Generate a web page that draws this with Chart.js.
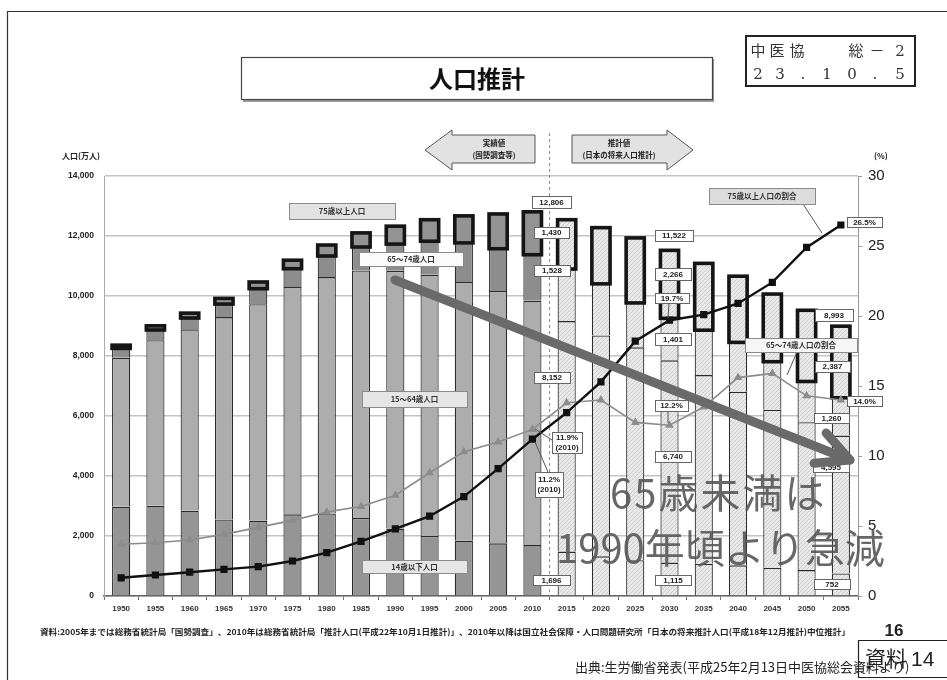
<!DOCTYPE html>
<html lang="ja">
<head>
<meta charset="utf-8">
<title>人口推計</title>
<script src="https://cdn.jsdelivr.net/npm/chart.js@4.4.1/dist/chart.umd.min.js"></script>
<style>
  html, body { margin: 0; padding: 0; background: #fff; }
  #wrap { position: relative; width: 947px; height: 680px; overflow: hidden; }
  canvas { display: block; }
</style>
</head>
<body>
<div id="wrap"><canvas id="c" width="947" height="680"></canvas></div>
<script>
// ---- data (population in 10,000 persons; shares in %) ----
const years = ['1950','1955','1960','1965','1970','1975','1980','1985','1990','1995','2000','2005','2010',
               '2015','2020','2025','2030','2035','2040','2045','2050','2055'];
const under15   = [2979,3012,2843,2553,2515,2722,2751,2603,2249,2001,1847,1759,1696,
                   1484,1324,1194,1115,1071,1021,940,864,752];
const age15to64 = [4966,5517,6047,6744,7212,7581,7883,8251,8590,8716,8622,8409,8152,
                   7681,7363,7096,6740,6292,5787,5270,4930,4595];
const age65to74 = [309,338,376,434,516,606,699,779,892,1109,1301,1407,1528,
                   1733,1718,1479,1401,1497,1646,1600,1357,1260];
const age75plus = [107,139,163,190,224,284,366,471,597,717,901,1160,1430,
                   1645,1873,2167,2266,2228,2206,2255,2373,2387];
const share75plus  = [1.3,1.5,1.7,1.9,2.1,2.5,3.1,3.9,4.8,5.7,7.1,9.1,11.2,
                      13.1,15.3,18.2,19.7,20.1,20.9,22.4,24.9,26.5];
const share65to74  = [3.7,3.8,4.0,4.4,4.9,5.4,6.0,6.4,7.2,8.8,10.3,11.0,11.9,
                      13.8,14.0,12.4,12.2,13.5,15.6,15.9,14.3,14.0];
const leftTicks  = [0, 2000, 4000, 6000, 8000, 10000, 12000, 14000];
const rightTicks = [0, 5, 10, 15, 20, 25, 30];
const firstProjected = years.indexOf('2015');

const JP  = "'Noto Sans CJK JP', 'Noto Sans', sans-serif";
const NUM = "'Liberation Sans Narrow', 'Liberation Sans', Arial, sans-serif";
const fmt = v => v.toLocaleString('en-US');
const pct = v => v.toFixed(1) + '%';

// light diagonal hatch used for projected years
function makeHatch(base, line) {
  const c = document.createElement('canvas');
  c.width = 4; c.height = 4;
  const g = c.getContext('2d');
  g.fillStyle = base; g.fillRect(0, 0, 4, 4);
  g.strokeStyle = line; g.lineWidth = 0.8;
  g.beginPath();
  g.moveTo(-1, 5); g.lineTo(5, -1);
  g.moveTo(-1, 1); g.lineTo(1, -1);
  g.moveTo(3, 5); g.lineTo(5, 3);
  g.stroke();
  return g.createPattern(c, 'repeat');
}
const hatch = makeHatch('#e9e9e9', '#c4c4c4');
const fillBy = solid => ctx => ctx.dataIndex < firstProjected ? solid : hatch;

const i10 = years.indexOf('2010'), i30 = years.indexOf('2030'), i55 = years.indexOf('2055');

// value call-outs: [text, left, top, right, bottom]
const callouts = [
  ['12,806', 532,196,571,208],
  [fmt(age75plus[i10]), 534,227,569,238],
  [fmt(age65to74[i10]), 534,265,570,276],
  [fmt(age15to64[i10]), 534,372,570,383],
  [fmt(under15[i10]),   533,575,570,585],
  [pct(share65to74[i10]) + '\n(2010)', 552,432,582,453],
  [pct(share75plus[i10]) + '\n(2010)', 535,472,563,497],
  ['11,522', 655,230,693,241],
  [fmt(age75plus[i30]), 655,268,691,280],
  [pct(share75plus[i30]), 655,293,689,303],
  [fmt(age65to74[i30]), 655,333,691,345],
  [pct(share65to74[i30]), 655,400,688,411],
  [fmt(age15to64[i30]), 655,451,691,462],
  [fmt(under15[i30]),   655,575,691,585],
  ['8,993', 815,309,853,321],
  [fmt(age75plus[i55]), 815,361,850,372],
  [pct(share75plus[i55]), 847,217,882,227],
  [pct(share65to74[i55]), 847,396,882,406],
  [fmt(age65to74[i55]), 814,413,849,423],
  [fmt(age15to64[i55]), 813,462,849,472],
  [fmt(under15[i55]),   814,579,850,589]
];
// series names: [text, left, top, right, bottom, fill]
const seriesTags = [
  ['75歳以上人口', 289,203,395,219, '#e3e3e3'],
  ['65～74歳人口', 359,252,463,266, '#fbfbfb'],
  ['15～64歳人口', 362,391,467,407, '#e6e6e6'],
  ['14歳以下人口', 362,560,467,573, '#e6e6e6'],
  ['75歳以上人口の割合', 709,188,815,204, '#dcdcdc'],
  ['65～74歳人口の割合', 745,338,857,352, '#f6f6f6']
];
// leader lines
const leaders = [
  [803,204, 822,233],
  [797,352, 787,375],
  [669,303, 668,318],
  [668,411, 668,423],
  [552,440, 535,429],
  [548,472, 535,442]
];

function rectBox(ctx, x0, y0, x1, y1, fill, stroke, lw) {
  ctx.fillStyle = fill;
  ctx.fillRect(x0, y0, x1 - x0, y1 - y0);
  ctx.strokeStyle = stroke; ctx.lineWidth = lw;
  ctx.strokeRect(x0 + 0.5, y0 + 0.5, x1 - x0, y1 - y0);
}
function centeredLines(ctx, text, cx, cy, lh) {
  const lines = text.split('\n');
  lines.forEach((t, k) => ctx.fillText(t, cx, cy + (k - (lines.length - 1) / 2) * lh));
}

const decorations = {
  id: 'decorations',
  beforeDatasetsDraw(chart) {
    const ctx = chart.ctx, x = chart.scales.x, y = chart.scales.y;
    const xm = (x.getPixelForValue(i10) + x.getPixelForValue(firstProjected)) / 2;
    ctx.save();
    ctx.strokeStyle = '#8a8a8a'; ctx.lineWidth = 1; ctx.setLineDash([3, 3]);
    ctx.beginPath(); ctx.moveTo(xm, 133); ctx.lineTo(xm, y.getPixelForValue(0)); ctx.stroke();
    ctx.restore();
  },
  afterDatasetDraw(chart, args) {
    // heavy outline of the 75+ segment, painted once every bar layer is down
    if (args.index !== 2) return;
    const ctx = chart.ctx;
    ctx.save();
    ctx.strokeStyle = '#151515'; ctx.lineWidth = 3.6;
    chart.getDatasetMeta(5).data.forEach(bar => {
      const p = bar.getProps(['x', 'y', 'base', 'width'], true);
      ctx.strokeRect(p.x - p.width / 2, Math.min(p.y, p.base), p.width, Math.abs(p.base - p.y));
    });
    ctx.restore();
  },
  afterDraw(chart) {
    const ctx = chart.ctx;
    ctx.save();
    // page frame
    ctx.strokeStyle = '#333'; ctx.lineWidth = 1.2;
    ctx.beginPath(); ctx.moveTo(7.5, 690); ctx.lineTo(7.5, 11.5); ctx.lineTo(960, 11.5); ctx.stroke();

    // title
    ctx.fillStyle = '#999'; ctx.fillRect(243, 59, 471, 43);
    rectBox(ctx, 241, 57, 712, 99, '#fff', '#444', 1.2);
    ctx.fillStyle = '#111'; ctx.font = `bold 24px ${JP}`;
    ctx.textAlign = 'center'; ctx.textBaseline = 'middle';
    ctx.fillText('人口推計', 477, 79);

    // document tag top right
    ctx.strokeStyle = '#222'; ctx.lineWidth = 2;
    ctx.strokeRect(746, 36, 169, 50);
    ctx.fillStyle = '#333'; ctx.font = `15px 'DejaVu Serif', ${JP}`;
    [['中',758],['医',777],['協',797],['総',856],['－',877],['2',900]].forEach(([t, x]) => ctx.fillText(t, x, 52));
    [['2',758],['3',780],['.',803],['1',827],['0',852],['.',875],['5',900]].forEach(([t, x]) => ctx.fillText(t, x, 75));

    // actual / projected banners
    const banner = pts => {
      ctx.beginPath(); pts.forEach(([px, py], k) => k ? ctx.lineTo(px, py) : ctx.moveTo(px, py));
      ctx.closePath(); ctx.fillStyle = '#e2e2e2'; ctx.fill();
      ctx.strokeStyle = '#555'; ctx.lineWidth = 1; ctx.stroke();
    };
    banner([[425,150],[452,130],[452,135],[535,135],[535,163],[452,163],[452,170]]);
    banner([[693,150],[667,130],[667,135],[572,135],[572,163],[667,163],[667,170]]);
    ctx.fillStyle = '#222'; ctx.font = `bold 7.5px ${JP}`;
    ctx.fillText('実績値', 494, 143); ctx.fillText('(国勢調査等)', 494, 155);
    ctx.fillText('推計値', 619, 143); ctx.fillText('(日本の将来人口推計)', 619, 155);

    // axis titles
    ctx.font = `bold 8px ${JP}`; ctx.textAlign = 'left';
    ctx.fillText('人口(万人)', 62, 156);
    ctx.fillText('(%)', 874, 156);

    // leader lines
    ctx.strokeStyle = '#555'; ctx.lineWidth = 1;
    leaders.forEach(([a, b, c, d]) => { ctx.beginPath(); ctx.moveTo(a, b); ctx.lineTo(c, d); ctx.stroke(); });

    // series name tags
    ctx.textAlign = 'center';
    seriesTags.forEach(([t, x0, y0, x1, y1, f]) => {
      rectBox(ctx, x0, y0, x1, y1, f, '#8a8a8a', 1);
      ctx.fillStyle = '#333'; ctx.font = `bold 7.5px ${JP}`;
      ctx.fillText(t, (x0 + x1) / 2, (y0 + y1) / 2 + 0.5);
    });

    // value call-outs
    callouts.forEach(([t, x0, y0, x1, y1]) => {
      rectBox(ctx, x0, y0, x1, y1, '#fff', '#666', 1);
      ctx.fillStyle = '#222'; ctx.font = `bold 8px ${NUM}`;
      centeredLines(ctx, t, (x0 + x1) / 2, (y0 + y1) / 2 + 0.5, 10);
    });

    // trend arrow
    ctx.strokeStyle = '#6a6a6a'; ctx.lineWidth = 9; ctx.lineCap = 'round'; ctx.lineJoin = 'round';
    const tip = [850, 460], from = [395, 280];
    ctx.beginPath(); ctx.moveTo(from[0], from[1]); ctx.lineTo(tip[0], tip[1]); ctx.stroke();
    const ang = Math.atan2(tip[1] - from[1], tip[0] - from[0]) + Math.PI;
    ctx.beginPath();
    ctx.moveTo(tip[0] + 36 * Math.cos(ang - 0.47), tip[1] + 36 * Math.sin(ang - 0.47));
    ctx.lineTo(tip[0], tip[1]);
    ctx.lineTo(tip[0] + 36 * Math.cos(ang + 0.47), tip[1] + 36 * Math.sin(ang + 0.47));
    ctx.stroke();

    // message
    ctx.fillStyle = 'rgba(90,90,90,0.92)'; ctx.textAlign = 'left'; ctx.textBaseline = 'alphabetic';
    ctx.font = `400 40px ${JP}`;
    ctx.letterSpacing = '2px';
    ctx.fillText('65歳未満は', 610, 508);
    ctx.letterSpacing = '0px';
    ctx.fillText('1990年頃より急減', 556, 563);

    // source note
    ctx.fillStyle = '#222'; ctx.font = `bold 8px ${JP}`;
    const note = '資料:2005年までは総務省統計局「国勢調査」、2010年は総務省統計局「推計人口(平成22年10月1日推計)」、2010年以降は国立社会保障・人口問題研究所「日本の将来推計人口(平成18年12月推計)中位推計」';
    const w = ctx.measureText(note).width;
    ctx.save(); ctx.translate(40, 635); ctx.scale(810 / w, 1); ctx.fillText(note, 0, 0); ctx.restore();

    ctx.font = `bold 17px ${NUM}`; ctx.textAlign = 'center';
    ctx.fillText('16', 894, 636);

    rectBox(ctx, 858, 640, 960, 677, '#fff', '#222', 1.2);
    ctx.fillStyle = '#222'; ctx.font = `13px ${JP}`; ctx.textAlign = 'left';
    ctx.fillText('出典:生労働省発表(平成25年2月13日中医協総会資料より)', 575, 672);
    ctx.font = `21px ${JP}`;
    ctx.fillText('資料', 865, 666);
    ctx.font = `21px ${NUM}`;
    ctx.fillText('14', 911, 666);
    ctx.restore();
  }
};

const barBorder = { left: 1.2, right: 1.2, top: 1.4, bottom: 0 };

new Chart(document.getElementById('c'), {
  data: {
    labels: years,
    datasets: [
      { type: 'line', label: '75歳以上人口の割合', data: share75plus, yAxisID: 'y1',
        borderColor: '#111', backgroundColor: '#111', borderWidth: 2.4,
        pointStyle: 'rect', pointRadius: 3.4, tension: 0 },
      { type: 'line', label: '65～74歳人口の割合', data: share65to74, yAxisID: 'y1',
        borderColor: '#8c8c8c', backgroundColor: '#8c8c8c', borderWidth: 1.6,
        pointStyle: 'triangle', pointRadius: 3.4, tension: 0 },
      { type: 'bar', label: '14歳以下人口', data: under15, yAxisID: 'y', stack: 'pop',
        backgroundColor: fillBy('#959595'), borderColor: '#2a2a2a', borderWidth: barBorder, borderSkipped: false },
      { type: 'bar', label: '15～64歳人口', data: age15to64, yAxisID: 'y', stack: 'pop',
        backgroundColor: fillBy('#adadad'), borderColor: '#2a2a2a', borderWidth: barBorder, borderSkipped: false },
      { type: 'bar', label: '65～74歳人口', data: age65to74, yAxisID: 'y', stack: 'pop',
        backgroundColor: fillBy('#8d8d8d'), borderColor: '#2a2a2a', borderWidth: barBorder, borderSkipped: false },
      { type: 'bar', label: '75歳以上人口', data: age75plus, yAxisID: 'y', stack: 'pop',
        backgroundColor: fillBy('#939393'), borderWidth: 0 }
    ]
  },
  options: {
    responsive: false,
    animation: false,
    locale: 'en-US',
    layout: { padding: { top: 176, bottom: 60, left: 0, right: 0 } },
    datasets: { bar: { barPercentage: 0.53, categoryPercentage: 1 } },
    plugins: { legend: { display: false }, tooltip: { enabled: false } },
    scales: {
      x: {
        stacked: true, offset: true,
        grid: { display: true, drawOnChartArea: false, offset: true, tickLength: 4, color: '#777' },
        border: { color: '#666', width: 1.5 },
        ticks: { autoSkip: false, maxRotation: 0, padding: 4, color: '#333',
                 font: { family: NUM, size: 8, weight: 'bold' } },
        afterFit: s => { s.height = 24; }
      },
      y: {
        stacked: true, position: 'left', min: 0, max: 14000,
        afterBuildTicks: s => { s.ticks = leftTicks.map(v => ({ value: v })); },
        grid: { color: '#c4c4c4', lineWidth: 1.5, drawTicks: false },
        border: { color: '#aaa', width: 1 },
        ticks: { padding: 10, color: '#222', font: { family: NUM, size: 8.5, weight: 'bold' } },
        afterFit: s => { s.width = 104; }
      },
      y1: {
        position: 'right', min: 0, max: 30,
        afterBuildTicks: s => { s.ticks = rightTicks.map(v => ({ value: v })); },
        grid: { drawOnChartArea: false, tickLength: 4, color: '#999' },
        border: { color: '#999', width: 1 },
        ticks: { padding: 6, color: '#222', font: { family: "'Liberation Sans', Arial, sans-serif", size: 15 } },
        afterFit: s => { s.width = 89; }
      }
    }
  },
  plugins: [decorations]
});
</script>
</body>
</html>
